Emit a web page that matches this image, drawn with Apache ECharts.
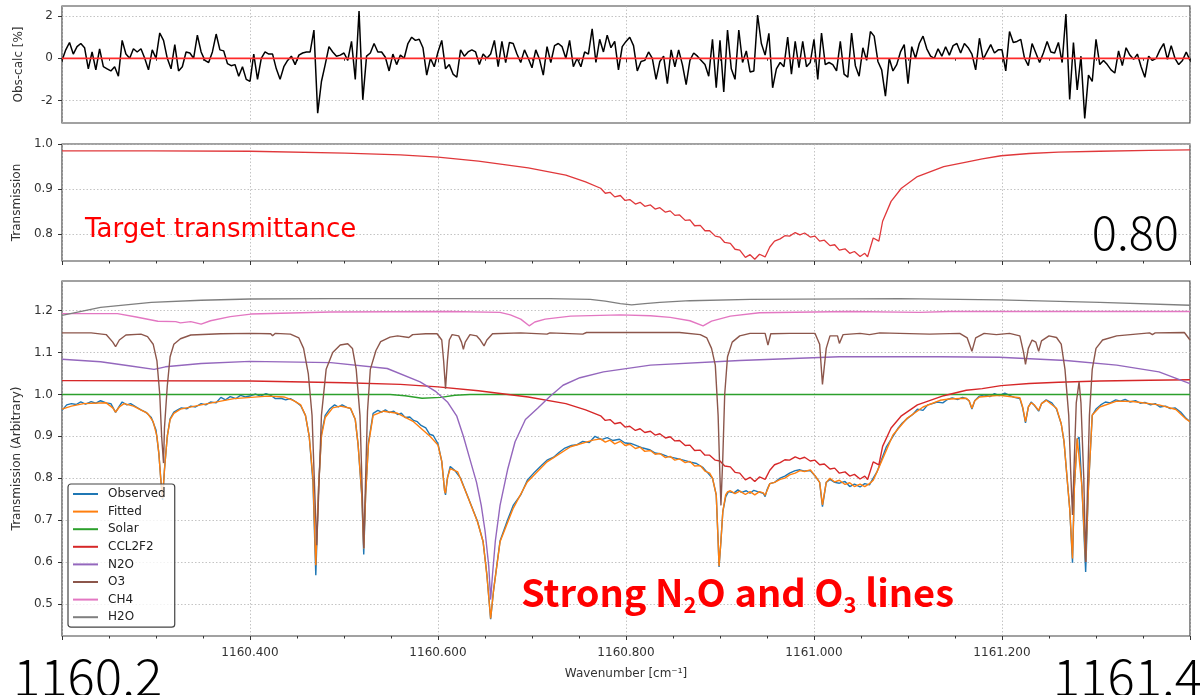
<!DOCTYPE html>
<html>
<head>
<meta charset="utf-8">
<script src="https://cdn.jsdelivr.net/npm/echarts@6/dist/echarts.min.js"></script>
<style>
html,body{margin:0;padding:0;background:#fff;}
#chart{width:1200px;height:695px;}
</style>
</head>
<body>
<div id="chart"></div>
<script>
// ---------------- data ----------------
const X_MIN = 1160.2, X_MAX = 1161.4;

// Obs-calc residual [%], uniform wavenumber grid
const residualStart = 1160.2;
const residualStep = 0.004;
const residual = [
-0.1,0.4,0.75,0.2,0.55,0.7,0.5,-0.5,0.3,-0.55,
0.45,-0.4,-0.5,-0.6,-0.4,-0.85,0.85,0.2,0.0,0.45,
0.3,0.45,0.0,-0.55,0.4,0.0,1.2,0.85,0.0,-0.5,
0.65,-0.6,-0.4,0.3,0.25,0.0,1.1,0.3,-0.1,-0.2,
0.3,1.15,0.4,0.35,-0.25,-0.35,-0.3,-0.85,-0.4,-1.0,
-1.1,0.2,-1.0,0.0,0.3,0.2,0.2,-0.5,-1.0,-0.4,
-0.1,0.1,-0.3,0.15,0.25,0.3,0.3,1.34,-2.6,-1.1,
-0.3,0.55,0.3,0.1,0.15,0.25,-0.1,0.8,-1.0,2.24,
-1.97,0.1,0.25,0.7,0.3,0.3,0.05,-0.6,0.2,-0.3,
0.15,0.0,0.7,1.0,0.85,0.9,0.5,-0.8,0.0,-0.4,
0.3,0.85,-0.5,-0.3,-0.75,-0.9,0.4,0.1,0.3,0.4,
0.3,-0.3,0.2,0.0,0.2,0.85,-0.4,0.8,-0.2,0.75,
0.7,0.2,-0.2,0.4,0.0,-0.45,0.4,-0.05,-0.8,0.55,
-0.2,0.6,0.7,0.55,0.0,0.85,-0.4,0.0,-0.4,0.3,
0.2,1.4,-0.2,0.9,0.3,1.1,0.5,0.8,-0.55,0.55,
0.8,1.0,0.6,-0.6,-0.15,-0.1,0.3,0.0,-1.0,-0.15,
0.1,-1.2,0.4,-0.4,0.4,-0.3,-1.25,-0.1,0.25,0.1,
-0.1,-0.3,-0.85,0.9,-1.4,0.85,-1.6,1.34,-0.5,-1.0,
1.34,-0.2,0.35,-0.65,-0.6,2.05,0.7,0.15,1.18,-1.4,
-0.5,-0.2,-0.4,1.0,-0.75,0.8,-0.45,0.8,-0.4,-0.2,
0.9,-1.0,1.2,-0.3,-0.2,-0.3,-0.6,0.8,-0.75,-0.9,
1.2,-0.35,-0.85,0.5,-0.1,1.27,1.05,-0.15,-0.55,-1.8,
0.0,-0.6,-0.3,0.3,0.65,-1.2,0.55,0.0,0.7,1.05,
0.45,0.1,0.0,0.45,0.1,0.55,0.15,0.6,0.7,0.25,
0.7,0.5,0.2,-0.55,0.95,-0.05,0.3,0.65,0.25,0.4,
0.4,-0.6,1.27,0.75,0.8,0.9,0.0,-0.35,0.7,0.25,
-0.2,0.25,0.8,0.3,0.25,0.75,-0.2,2.1,-1.95,0.75,
-1.5,0.1,-2.85,-0.8,-1.1,0.9,-0.3,-0.1,-0.3,-0.55,
-0.7,0.35,-0.35,0.5,0.15,-0.05,0.2,-0.4,-0.9,0.1,
-0.1,0.0,0.4,0.7,-0.05,0.6,0.0,-0.3,-0.1,0.3,
-0.1
];
const zeroLine = [[1160.2, 0], [1161.4, 0]];

// Target transmittance (middle panel) [wavenumber, transmission]
const target = [
[1160.200,0.985],[1160.295,0.985],[1160.400,0.984],[1160.501,0.980],[1160.560,0.976],[1160.600,0.971],[1160.643,0.962],[1160.696,0.947],[1160.736,0.931],[1160.757,0.916],
[1160.773,0.902],[1160.778,0.891],[1160.783,0.893],[1160.788,0.883],[1160.794,0.886],[1160.799,0.875],[1160.804,0.877],[1160.810,0.867],[1160.815,0.871],[1160.820,0.862],
[1160.826,0.865],[1160.831,0.856],[1160.836,0.859],[1160.842,0.849],[1160.847,0.852],[1160.852,0.842],[1160.857,0.843],[1160.863,0.831],[1160.868,0.832],[1160.873,0.819],
[1160.879,0.820],[1160.884,0.808],[1160.889,0.808],[1160.895,0.796],[1160.900,0.794],[1160.905,0.782],[1160.911,0.780],[1160.916,0.767],[1160.921,0.765],[1160.927,0.749],
[1160.932,0.755],[1160.937,0.745],[1160.942,0.756],[1160.948,0.750],[1160.953,0.772],[1160.958,0.785],[1160.964,0.790],[1160.969,0.797],[1160.974,0.796],[1160.980,0.804],
[1160.985,0.799],[1160.990,0.803],[1160.996,0.794],[1161.001,0.796],[1161.006,0.785],[1161.011,0.787],[1161.017,0.775],[1161.022,0.777],[1161.027,0.765],[1161.033,0.768],
[1161.038,0.758],[1161.043,0.762],[1161.049,0.751],[1161.054,0.758],[1161.057,0.750],[1161.063,0.792],[1161.069,0.785],[1161.073,0.829],[1161.082,0.873],[1161.093,0.902],
[1161.110,0.928],[1161.138,0.950],[1161.162,0.960],[1161.179,0.967],[1161.199,0.974],[1161.229,0.979],[1161.260,0.982],[1161.304,0.984],[1161.357,0.986],[1161.400,0.987]
];

// Bottom panel series [wavenumber, transmission (arbitrary)]
const observed = [
[1160.200,0.962],[1160.205,0.975],[1160.210,0.978],[1160.215,0.976],[1160.220,0.982],[1160.225,0.977],[1160.231,0.983],[1160.236,0.979],[1160.241,0.985],[1160.247,0.980],
[1160.252,0.978],[1160.257,0.957],[1160.261,0.972],[1160.264,0.982],[1160.269,0.975],[1160.273,0.978],[1160.279,0.970],[1160.284,0.963],[1160.289,0.958],[1160.295,0.945],
[1160.300,0.915],[1160.303,0.860],[1160.305,0.800],[1160.307,0.748],[1160.309,0.820],[1160.312,0.900],[1160.315,0.942],[1160.319,0.958],[1160.323,0.963],[1160.327,0.968],
[1160.333,0.966],[1160.337,0.972],[1160.342,0.970],[1160.348,0.978],[1160.353,0.975],[1160.358,0.982],[1160.364,0.980],[1160.369,0.993],[1160.374,0.987],[1160.379,0.995],
[1160.385,0.990],[1160.390,0.998],[1160.395,0.994],[1160.401,0.997],[1160.406,1.001],[1160.411,0.996],[1160.417,1.002],[1160.422,0.998],[1160.427,0.990],[1160.433,0.991],
[1160.438,0.987],[1160.443,0.990],[1160.449,0.982],[1160.454,0.973],[1160.459,0.950],[1160.463,0.900],[1160.467,0.790],[1160.470,0.568],[1160.473,0.780],[1160.476,0.905],
[1160.480,0.950],[1160.485,0.966],[1160.490,0.975],[1160.494,0.970],[1160.498,0.975],[1160.503,0.969],[1160.507,0.966],[1160.512,0.940],[1160.515,0.880],[1160.519,0.755],
[1160.521,0.618],[1160.523,0.760],[1160.526,0.885],[1160.531,0.955],[1160.536,0.962],[1160.540,0.958],[1160.544,0.963],[1160.548,0.957],[1160.553,0.960],[1160.557,0.952],
[1160.561,0.955],[1160.565,0.945],[1160.570,0.946],[1160.574,0.938],[1160.578,0.935],[1160.582,0.926],[1160.587,0.920],[1160.591,0.905],[1160.595,0.902],[1160.600,0.882],
[1160.604,0.840],[1160.607,0.770],[1160.608,0.760],[1160.610,0.800],[1160.613,0.828],[1160.618,0.818],[1160.624,0.800],[1160.631,0.760],[1160.642,0.697],[1160.648,0.648],
[1160.652,0.570],[1160.656,0.463],[1160.659,0.530],[1160.666,0.650],[1160.674,0.700],[1160.680,0.735],[1160.688,0.760],[1160.695,0.795],[1160.703,0.815],[1160.710,0.830],
[1160.716,0.843],[1160.723,0.850],[1160.729,0.862],[1160.735,0.872],[1160.742,0.878],[1160.748,0.880],[1160.754,0.888],[1160.761,0.885],[1160.767,0.900],[1160.774,0.892],
[1160.780,0.897],[1160.786,0.890],[1160.793,0.893],[1160.799,0.884],[1160.805,0.883],[1160.812,0.877],[1160.818,0.872],[1160.825,0.868],[1160.831,0.860],[1160.837,0.858],
[1160.844,0.852],[1160.850,0.849],[1160.856,0.846],[1160.863,0.842],[1160.869,0.838],[1160.875,0.835],[1160.882,0.825],[1160.886,0.815],[1160.892,0.800],[1160.896,0.760],
[1160.898,0.650],[1160.899,0.588],[1160.901,0.650],[1160.903,0.720],[1160.906,0.755],[1160.909,0.768],[1160.915,0.765],[1160.919,0.772],[1160.923,0.766],[1160.928,0.770],
[1160.932,0.764],[1160.936,0.771],[1160.940,0.768],[1160.946,0.764],[1160.948,0.756],[1160.950,0.772],[1160.953,0.787],[1160.958,0.790],[1160.964,0.800],[1160.969,0.805],
[1160.974,0.812],[1160.980,0.818],[1160.985,0.820],[1160.990,0.817],[1160.996,0.818],[1161.001,0.806],[1161.006,0.790],[1161.009,0.732],[1161.013,0.790],[1161.017,0.797],
[1161.022,0.790],[1161.027,0.788],[1161.033,0.792],[1161.038,0.780],[1161.043,0.786],[1161.049,0.779],[1161.054,0.787],[1161.059,0.784],[1161.063,0.800],[1161.067,0.815],
[1161.072,0.845],[1161.077,0.875],[1161.084,0.900],[1161.089,0.918],[1161.094,0.932],[1161.100,0.944],[1161.105,0.952],[1161.110,0.965],[1161.116,0.962],[1161.121,0.975],
[1161.126,0.978],[1161.131,0.982],[1161.137,0.980],[1161.142,0.988],[1161.147,0.992],[1161.153,0.988],[1161.158,0.993],[1161.162,0.990],[1161.165,0.985],[1161.168,0.965],
[1161.171,0.985],[1161.176,0.996],[1161.181,0.999],[1161.187,0.995],[1161.192,1.002],[1161.197,0.997],[1161.203,1.003],[1161.208,0.998],[1161.213,0.993],[1161.219,0.990],
[1161.222,0.968],[1161.225,0.932],[1161.228,0.970],[1161.231,0.982],[1161.234,0.975],[1161.239,0.960],[1161.242,0.978],[1161.247,0.987],[1161.253,0.980],[1161.258,0.965],
[1161.263,0.930],[1161.266,0.887],[1161.270,0.780],[1161.272,0.728],[1161.275,0.598],[1161.277,0.780],[1161.280,0.893],[1161.282,0.898],[1161.285,0.780],[1161.289,0.576],
[1161.292,0.780],[1161.296,0.950],[1161.300,0.965],[1161.305,0.975],[1161.310,0.982],[1161.315,0.980],[1161.321,0.987],[1161.326,0.984],[1161.331,0.988],[1161.336,0.982],
[1161.342,0.985],[1161.347,0.979],[1161.352,0.981],[1161.358,0.975],[1161.363,0.978],[1161.368,0.970],[1161.374,0.972],[1161.379,0.966],[1161.384,0.968],[1161.390,0.958],
[1161.395,0.945],[1161.400,0.935]
];

const fitted = [
[1160.200,0.965],[1160.210,0.972],[1160.223,0.978],[1160.247,0.980],[1160.254,0.968],[1160.257,0.958],[1160.261,0.970],[1160.266,0.978],[1160.276,0.972],[1160.291,0.955],
[1160.297,0.935],[1160.301,0.900],[1160.303,0.860],[1160.305,0.800],[1160.307,0.752],[1160.309,0.820],[1160.312,0.900],[1160.315,0.940],[1160.319,0.955],[1160.326,0.965],
[1160.348,0.975],[1160.383,0.990],[1160.419,0.996],[1160.436,0.994],[1160.446,0.986],[1160.454,0.975],[1160.459,0.950],[1160.463,0.900],[1160.467,0.800],[1160.470,0.592],
[1160.473,0.780],[1160.476,0.900],[1160.480,0.945],[1160.488,0.968],[1160.496,0.972],[1160.507,0.967],[1160.512,0.940],[1160.515,0.880],[1160.519,0.760],[1160.521,0.632],
[1160.523,0.760],[1160.526,0.880],[1160.531,0.950],[1160.542,0.960],[1160.557,0.955],[1160.574,0.935],[1160.592,0.899],[1160.600,0.879],[1160.604,0.840],[1160.607,0.770],
[1160.608,0.764],[1160.610,0.800],[1160.613,0.823],[1160.621,0.815],[1160.631,0.759],[1160.642,0.696],[1160.648,0.648],[1160.652,0.568],[1160.656,0.465],[1160.659,0.530],
[1160.666,0.648],[1160.680,0.728],[1160.695,0.791],[1160.716,0.839],[1160.741,0.875],[1160.765,0.891],[1160.773,0.894],[1160.778,0.886],[1160.783,0.891],[1160.788,0.882],
[1160.794,0.888],[1160.799,0.878],[1160.804,0.881],[1160.810,0.871],[1160.815,0.874],[1160.820,0.864],[1160.826,0.866],[1160.831,0.857],[1160.836,0.859],[1160.842,0.849],
[1160.847,0.852],[1160.852,0.843],[1160.857,0.846],[1160.863,0.837],[1160.868,0.840],[1160.873,0.829],[1160.879,0.830],[1160.884,0.817],[1160.889,0.812],[1160.892,0.800],
[1160.896,0.760],[1160.898,0.650],[1160.899,0.590],[1160.901,0.650],[1160.903,0.720],[1160.906,0.760],[1160.908,0.767],[1160.911,0.770],[1160.916,0.763],[1160.921,0.769],
[1160.927,0.761],[1160.932,0.768],[1160.937,0.760],[1160.942,0.768],[1160.946,0.765],[1160.948,0.759],[1160.950,0.770],[1160.953,0.787],[1160.958,0.790],[1160.964,0.797],
[1160.969,0.800],[1160.974,0.808],[1160.980,0.812],[1160.985,0.818],[1160.990,0.816],[1160.996,0.820],[1161.001,0.806],[1161.006,0.790],[1161.009,0.736],[1161.013,0.790],
[1161.017,0.800],[1161.022,0.791],[1161.027,0.795],[1161.033,0.785],[1161.038,0.789],[1161.043,0.780],[1161.049,0.786],[1161.054,0.780],[1161.059,0.787],[1161.063,0.795],
[1161.067,0.815],[1161.084,0.903],[1161.099,0.943],[1161.116,0.970],[1161.134,0.986],[1161.144,0.989],[1161.162,0.991],[1161.165,0.985],[1161.168,0.967],[1161.171,0.985],
[1161.176,0.994],[1161.197,0.998],[1161.219,0.992],[1161.222,0.970],[1161.225,0.935],[1161.228,0.970],[1161.231,0.980],[1161.234,0.976],[1161.239,0.962],[1161.242,0.978],
[1161.247,0.986],[1161.258,0.967],[1161.263,0.930],[1161.266,0.887],[1161.270,0.780],[1161.272,0.728],[1161.275,0.608],[1161.277,0.780],[1161.280,0.895],[1161.282,0.897],
[1161.285,0.780],[1161.289,0.600],[1161.292,0.780],[1161.296,0.951],[1161.304,0.970],[1161.322,0.984],[1161.339,0.983],[1161.367,0.975],[1161.385,0.964],[1161.396,0.941],
[1161.400,0.935]
];

const solar = [
[1160.200,1.000],[1160.549,1.000],[1160.565,0.997],[1160.583,0.991],[1160.603,0.993],[1160.618,0.998],[1160.634,1.000],[1161.400,1.000]
];

const ccl2f2 = [
[1160.200,1.033],[1160.400,1.032],[1160.501,1.028],[1160.560,1.024],[1160.600,1.018],[1160.643,1.009],[1160.696,0.994],[1160.736,0.978],[1160.757,0.963],[1160.773,0.949],
[1160.778,0.938],[1160.783,0.940],[1160.788,0.930],[1160.794,0.933],[1160.799,0.922],[1160.804,0.924],[1160.810,0.914],[1160.815,0.918],[1160.820,0.909],[1160.826,0.912],
[1160.831,0.903],[1160.836,0.906],[1160.842,0.896],[1160.847,0.899],[1160.852,0.889],[1160.857,0.890],[1160.863,0.878],[1160.868,0.879],[1160.873,0.866],[1160.879,0.867],
[1160.884,0.855],[1160.889,0.855],[1160.895,0.843],[1160.900,0.841],[1160.905,0.829],[1160.911,0.827],[1160.916,0.814],[1160.921,0.812],[1160.927,0.796],[1160.932,0.802],
[1160.937,0.792],[1160.942,0.803],[1160.948,0.797],[1160.953,0.819],[1160.958,0.832],[1160.964,0.837],[1160.969,0.844],[1160.974,0.843],[1160.980,0.851],[1160.985,0.846],
[1160.990,0.850],[1160.996,0.841],[1161.001,0.843],[1161.006,0.832],[1161.011,0.834],[1161.017,0.822],[1161.022,0.824],[1161.027,0.812],[1161.033,0.815],[1161.038,0.805],
[1161.043,0.809],[1161.049,0.798],[1161.054,0.805],[1161.057,0.797],[1161.063,0.839],[1161.069,0.832],[1161.073,0.876],[1161.082,0.920],[1161.093,0.949],[1161.110,0.975],
[1161.138,0.997],[1161.162,1.010],[1161.179,1.014],[1161.199,1.021],[1161.229,1.026],[1161.260,1.029],[1161.304,1.032],[1161.357,1.034],[1161.400,1.035]
];

const n2o = [
[1160.200,1.084],[1160.241,1.078],[1160.273,1.068],[1160.298,1.060],[1160.310,1.066],[1160.348,1.074],[1160.400,1.079],[1160.486,1.076],[1160.546,1.062],[1160.581,1.030],
[1160.597,1.008],[1160.610,0.982],[1160.620,0.948],[1160.627,0.900],[1160.634,0.845],[1160.641,0.790],[1160.646,0.735],[1160.650,0.675],[1160.654,0.590],[1160.656,0.510],
[1160.658,0.570],[1160.661,0.650],[1160.666,0.735],[1160.674,0.820],[1160.682,0.887],[1160.693,0.940],[1160.706,0.967],[1160.719,0.995],[1160.733,1.022],[1160.751,1.040],
[1160.776,1.054],[1160.826,1.070],[1160.921,1.081],[1161.027,1.090],[1161.134,1.090],[1161.197,1.089],[1161.268,1.081],[1161.322,1.070],[1161.367,1.054],[1161.400,1.026]
];

const o3 = [
[1160.200,1.147],[1160.231,1.147],[1160.247,1.143],[1160.254,1.125],[1160.257,1.114],[1160.261,1.130],[1160.268,1.142],[1160.284,1.144],[1160.291,1.138],[1160.297,1.120],
[1160.301,1.080],[1160.304,1.000],[1160.306,0.900],[1160.308,0.836],[1160.309,0.920],[1160.312,1.020],[1160.315,1.090],[1160.319,1.120],[1160.326,1.133],[1160.337,1.142],
[1160.369,1.145],[1160.401,1.146],[1160.422,1.145],[1160.424,1.140],[1160.427,1.146],[1160.443,1.144],[1160.452,1.135],[1160.457,1.110],[1160.462,1.050],[1160.466,0.950],
[1160.469,0.760],[1160.471,0.640],[1160.473,0.760],[1160.476,0.950],[1160.481,1.060],[1160.488,1.100],[1160.496,1.118],[1160.504,1.121],[1160.509,1.110],[1160.513,1.060],
[1160.517,0.950],[1160.519,0.800],[1160.521,0.633],[1160.523,0.800],[1160.525,0.960],[1160.528,1.060],[1160.534,1.105],[1160.539,1.126],[1160.549,1.137],[1160.557,1.140],
[1160.569,1.136],[1160.573,1.143],[1160.587,1.145],[1160.599,1.145],[1160.604,1.130],[1160.606,1.080],[1160.608,1.014],[1160.610,1.080],[1160.612,1.130],[1160.615,1.143],
[1160.622,1.140],[1160.625,1.125],[1160.627,1.108],[1160.629,1.125],[1160.634,1.143],[1160.641,1.140],[1160.645,1.130],[1160.649,1.116],[1160.652,1.130],[1160.658,1.145],
[1160.688,1.147],[1160.716,1.144],[1160.719,1.147],[1160.754,1.144],[1160.758,1.148],[1160.815,1.148],[1160.857,1.148],[1160.879,1.143],[1160.886,1.135],[1160.891,1.110],
[1160.895,1.070],[1160.898,0.950],[1160.900,0.800],[1160.901,0.735],[1160.903,0.850],[1160.905,1.000],[1160.908,1.090],[1160.913,1.125],[1160.921,1.140],[1160.932,1.146],
[1160.948,1.146],[1160.951,1.118],[1160.954,1.145],[1160.974,1.146],[1161.001,1.146],[1161.006,1.120],[1161.009,1.024],[1161.013,1.110],[1161.017,1.140],[1161.025,1.140],
[1161.027,1.122],[1161.031,1.143],[1161.049,1.146],[1161.059,1.143],[1161.070,1.147],[1161.123,1.144],[1161.155,1.146],[1161.163,1.135],[1161.168,1.103],[1161.172,1.135],
[1161.181,1.146],[1161.194,1.143],[1161.208,1.146],[1161.219,1.140],[1161.223,1.100],[1161.225,1.072],[1161.228,1.110],[1161.232,1.130],[1161.236,1.125],[1161.239,1.103],
[1161.242,1.128],[1161.250,1.140],[1161.258,1.136],[1161.263,1.120],[1161.267,1.060],[1161.271,0.950],[1161.273,0.820],[1161.275,0.712],[1161.277,0.850],[1161.279,0.980],
[1161.282,1.030],[1161.284,0.980],[1161.287,0.800],[1161.289,0.600],[1161.291,0.780],[1161.293,0.950],[1161.296,1.060],[1161.300,1.110],[1161.307,1.130],[1161.322,1.140],
[1161.357,1.147],[1161.360,1.143],[1161.363,1.147],[1161.394,1.148],[1161.400,1.130]
];

const ch4 = [
[1160.200,1.193],[1160.259,1.193],[1160.279,1.185],[1160.302,1.175],[1160.321,1.174],[1160.326,1.171],[1160.337,1.174],[1160.348,1.168],[1160.358,1.176],[1160.379,1.186],
[1160.401,1.192],[1160.486,1.197],[1160.613,1.198],[1160.666,1.196],[1160.677,1.190],[1160.688,1.180],[1160.697,1.164],[1160.703,1.173],[1160.714,1.180],[1160.741,1.187],
[1160.794,1.190],[1160.826,1.188],[1160.847,1.184],[1160.868,1.176],[1160.882,1.164],[1160.891,1.175],[1160.911,1.187],[1160.942,1.195],[1161.038,1.198],[1161.112,1.196],
[1161.144,1.198],[1161.400,1.198]
];

const h2o = [
[1160.200,1.189],[1160.241,1.208],[1160.295,1.220],[1160.348,1.225],[1160.400,1.228],[1160.486,1.229],[1160.613,1.229],[1160.719,1.229],[1160.762,1.227],[1160.778,1.223],
[1160.794,1.217],[1160.806,1.214],[1160.820,1.217],[1160.836,1.220],[1160.868,1.224],[1160.932,1.227],[1161.091,1.229],[1161.197,1.226],[1161.304,1.220],[1161.400,1.213]
];

const residualTicks = [-2, 0, 2];
const targetTicks = [0.8, 0.9, 1.0];
const arbitraryTicks = [0.5, 0.6, 0.7, 0.8, 0.9, 1.0, 1.1, 1.2];

const legendNames = ['Observed','Fitted','Solar','CCL2F2','N2O','O3','CH4','H2O'];
const legendColors = ['#1f77b4','#ff7f0e','#2ca02c','#d62728','#9467bd','#8c564b','#e377c2','#7f7f7f'];
const bottomData = [observed, fitted, solar, ccl2f2, n2o, o3, ch4, h2o];

// ---------------- chart ----------------
const FONT = 'DejaVu Sans';
const TXT = '#333';
const gridLine = {show: true, lineStyle: {color: '#b5b5b5', width: 0.8, type: [1.5, 2]}};

function xAxisFor(idx, withLabels) {
  const ax = {
    type: 'value', gridIndex: idx, min: X_MIN, max: X_MAX, interval: 0.2,
    axisLine: {show: false},
    axisTick: {show: true, length: 4, lineStyle: {color: '#333', width: 1}},
    minorTick: {show: true, splitNumber: 4, length: 2.5, lineStyle: {color: '#333', width: 1}},
    axisLabel: {show: withLabels, showMinLabel: false, showMaxLabel: false, margin: 11,
      fontFamily: FONT, fontSize: 12, color: TXT, formatter: v => v.toFixed(3)},
    splitLine: gridLine
  };
  if (withLabels) {
    ax.name = 'Wavenumber [cm\u207B\u00B9]';
    ax.nameLocation = 'middle';
    ax.nameGap = 32;
    ax.nameTextStyle = {fontFamily: FONT, fontSize: 12, color: TXT};
  }
  return ax;
}
function yAxisFor(idx, min, max, ticks, digits, name) {
  return {
    type: 'value', gridIndex: idx, min: min, max: max,
    axisLine: {show: false},
    axisTick: {show: true, length: 4, customValues: ticks, lineStyle: {color: '#333', width: 1}},
    axisLabel: {customValues: ticks, margin: 9, fontFamily: FONT, fontSize: 12, color: TXT,
      formatter: v => v.toFixed(digits)},
    splitLine: gridLine,
    name: name, nameLocation: 'middle', nameRotate: 90, nameGap: 37,
    nameTextStyle: {fontFamily: FONT, fontSize: 12, color: TXT}
  };
}

const series = [
  {name: 'residual', type: 'line', xAxisIndex: 0, yAxisIndex: 0,
   data: residual.map((v, i) => [residualStart + i * residualStep, v]),
   showSymbol: false, symbol: 'none', lineStyle: {color: '#000', width: 1.5}},
  {name: 'zero', type: 'line', xAxisIndex: 0, yAxisIndex: 0, data: zeroLine,
   showSymbol: false, symbol: 'none', lineStyle: {color: '#ff2a2a', width: 1.8}},
  {name: 'target', type: 'line', xAxisIndex: 1, yAxisIndex: 1, data: target,
   showSymbol: false, symbol: 'none', lineStyle: {color: '#e0383b', width: 1.3}}
];
legendNames.forEach((n, k) => {
  series.push({name: n, type: 'line', xAxisIndex: 2, yAxisIndex: 2, data: bottomData[k],
    showSymbol: false, symbol: 'none', color: legendColors[k],
    lineStyle: {color: legendColors[k], width: 1.4}});
});

const gridBase = {left: 62, right: 10, show: true, borderColor: '#444', borderWidth: 1.2, backgroundColor: 'transparent'};

const option = {
  animation: false,
  backgroundColor: '#fff',
  grid: [
    Object.assign({top: 6, height: 117}, gridBase),
    Object.assign({top: 144, height: 117}, gridBase),
    Object.assign({top: 281, height: 355}, gridBase)
  ],
  xAxis: [xAxisFor(0, false), xAxisFor(1, false), xAxisFor(2, true)],
  yAxis: [
    yAxisFor(0, -3.07, 2.48, residualTicks, 0, 'Obs-calc [%]'),
    yAxisFor(1, 0.741, 1.0, targetTicks, 1, 'Transmission'),
    yAxisFor(2, 0.423, 1.271, arbitraryTicks, 1, 'Transmission (Arbitrary)')
  ],
  legend: {
    data: legendNames, orient: 'vertical', left: 68, top: 484,
    icon: 'rect', itemWidth: 25, itemHeight: 2, itemGap: 3.6,
    padding: [3, 9, 3, 5], selectedMode: false,
    backgroundColor: 'rgba(255,255,255,0.8)', borderColor: '#444', borderWidth: 1.2, borderRadius: 3,
    textStyle: {fontFamily: FONT, fontSize: 12, color: '#222', lineHeight: 14, padding: [0, 0, 0, 5]}
  },
  graphic: [
    {type: 'text', x: 85, y: 230, z: 100,
     style: {text: 'Target transmittance', fill: '#ff0000', font: '26px "DejaVu Sans"', align: 'left', verticalAlign: 'middle'}},
    {type: 'text', x: 1179, y: 232, z: 100,
     style: {text: '0.80', fill: '#000', font: '300 47px "Noto Sans CJK JP"', align: 'right', verticalAlign: 'middle'}},
    {type: 'text', x: 13, y: 677, z: 100,
     style: {text: '1160.2', fill: '#000', font: '300 51px "Noto Sans CJK JP"', align: 'left', verticalAlign: 'middle'}},
    {type: 'text', x: 1202, y: 677, z: 100,
     style: {text: '1161.4', fill: '#000', font: '300 51px "Noto Sans CJK JP"', align: 'right', verticalAlign: 'middle'}},
    {type: 'text', x: 521, y: 593, z: 100,
     style: {
       text: '{a|Strong N}{s|2}{a|O and O}{s|3}{a| lines}',
       align: 'left', verticalAlign: 'middle',
       rich: {
         a: {fill: '#ff0000', fontFamily: 'Noto Sans CJK JP', fontWeight: 'bold', fontSize: 38, lineHeight: 46},
         s: {fill: '#ff0000', fontFamily: 'Noto Sans CJK JP', fontWeight: 'bold', fontSize: 22, lineHeight: 22, verticalAlign: 'bottom'}
       }
     }}
  ],
  series: series
};

const chart = echarts.init(document.getElementById('chart'), null, {renderer: 'canvas'});
chart.setOption(option);
</script>
</body>
</html>
